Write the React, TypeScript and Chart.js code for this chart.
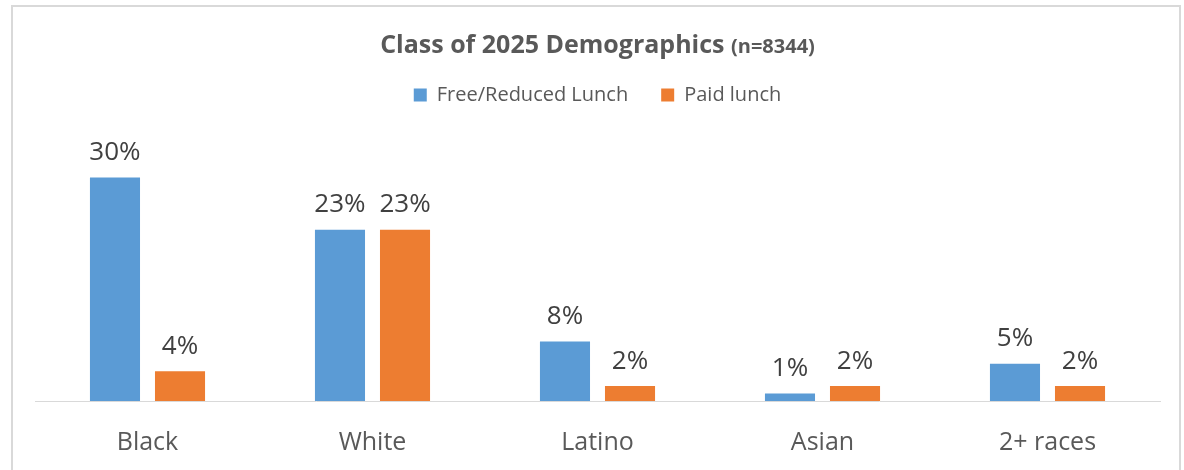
import React, { useEffect, useRef } from "react";
import { Chart, registerables } from "chart.js";

Chart.register(...registerables);

const categories = ["Black", "White", "Latino", "Asian", "2+ races"];
const freeReduced = [30, 23, 8, 1, 5];
const paidLunch = [4, 23, 2, 2, 2];
const seriesNames = ["Free/Reduced Lunch", "Paid lunch"];
const titleMain = "Class of 2025 Demographics";
const titleSub = "(n=8344)";
const yMax = 38.4;

const FONT = "'Open Sans', 'Noto Sans', sans-serif";
const TEXT = "#595959";

const titlePlugin = {
  id: "customTitle",
  afterDraw(chart: any) {
    const ctx = chart.ctx;
    ctx.save();
    ctx.fillStyle = TEXT;
    ctx.textBaseline = "alphabetic";
    ctx.font = `bold 25px ${FONT}`;
    const w1 = ctx.measureText(titleMain + " ").width;
    ctx.font = `bold 20px ${FONT}`;
    const w2 = ctx.measureText(titleSub).width;
    const start = (chart.chartArea.left + chart.chartArea.right) / 2 - (w1 + w2) / 2;
    ctx.font = `bold 25px ${FONT}`;
    ctx.textAlign = "left";
    ctx.fillText(titleMain + " ", start, 53);
    ctx.font = `bold 20px ${FONT}`;
    ctx.fillText(titleSub, start + w1, 53);
    ctx.restore();
  },
};

const labelPlugin = {
  id: "barLabels",
  afterDatasetsDraw(chart: any) {
    const ctx = chart.ctx;
    ctx.save();
    ctx.fillStyle = "#404040";
    ctx.font = `26px ${FONT}`;
    ctx.textAlign = "center";
    ctx.textBaseline = "middle";
    chart.data.datasets.forEach((ds: any, i: number) => {
      const meta = chart.getDatasetMeta(i);
      meta.data.forEach((bar: any, j: number) => {
        ctx.fillText(`${ds.data[j]}%`, bar.x, bar.y - 25);
      });
    });
    ctx.restore();
  },
};

export default function App() {
  const ref = useRef<HTMLCanvasElement>(null);
  useEffect(() => {
    if (!ref.current) return;
    const chart = new Chart(ref.current, {
      type: "bar",
      data: {
        labels: categories,
        datasets: [
          { label: seriesNames[0], data: freeReduced, backgroundColor: "#5B9BD5" },
          { label: seriesNames[1], data: paidLunch, backgroundColor: "#ED7D31" },
        ],
      },
      options: {
        animation: false,
        responsive: false,
        maintainAspectRatio: false,
        layout: { padding: { top: 52, left: 35, right: 24, bottom: -15 } },
        datasets: { bar: { categoryPercentage: 0.578, barPercentage: 0.77 } },
        plugins: {
          title: { display: false },
          tooltip: { enabled: false },
          legend: {
            position: "top",
            labels: {
              boxWidth: 13,
              boxHeight: 13,
              padding: 33,
              color: TEXT,
              font: { family: FONT, size: 20 },
            },
          },
        },
        scales: {
          x: {
            grid: { display: false, drawTicks: false },
            border: { display: true, color: "#d9d9d9", width: 1 },
            ticks: { color: TEXT, padding: 27, font: { family: FONT, size: 25 } },
          },
          y: { display: false, min: 0, max: yMax },
        },
      },
      plugins: [titlePlugin, labelPlugin],
    });
    return () => chart.destroy();
  }, []);
  return (
    <div style={{ position: "absolute", left: 0, top: 0, width: 1184, height: 470, background: "#fff", overflow: "hidden" }}>
      <div style={{ position: "absolute", left: 11, top: 5, width: 1166, height: 480, border: "2px solid #d9d9d9" }} />
      <canvas ref={ref} width={1184} height={470} style={{ position: "absolute", left: 0, top: 0 }} />
    </div>
  );
}
